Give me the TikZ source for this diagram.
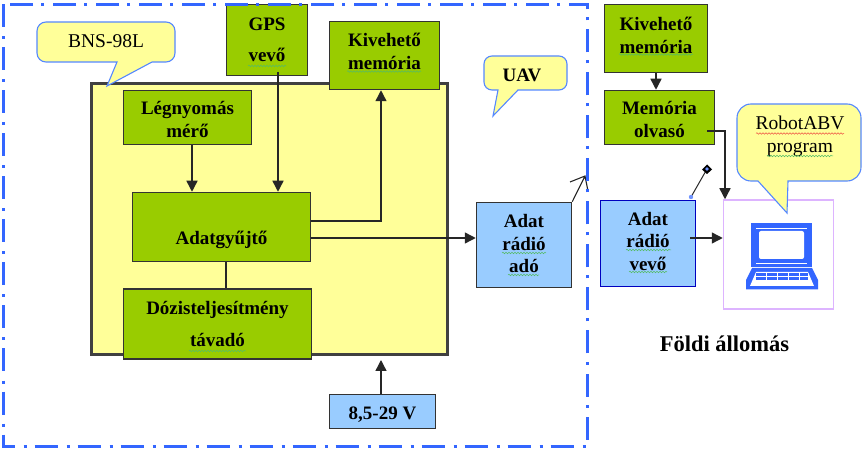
\documentclass[tikz,border=0pt]{standalone}
\usepackage{fontspec}
\setmainfont{Liberation Serif}
\usepackage{xcolor}
\usetikzlibrary{arrows.meta, calc, decorations.pathmorphing}
\definecolor{boxgreen}{HTML}{99CC00}
\definecolor{boxblue}{HTML}{99CCFF}
\definecolor{panelyellow}{HTML}{FFFF99}
\definecolor{framedash}{HTML}{3366FF}
\definecolor{calloutedge}{HTML}{5588FF}
\definecolor{stationlilac}{HTML}{DDB4FF}
\definecolor{spellgreen}{HTML}{55BB66}
\definecolor{spellred}{HTML}{EE5544}
\tikzset{
    boxtext/.style={font=\fontsize{19}{22.5}\selectfont\bfseries, align=center, inner sep=0pt},
    greenbox/.style={draw=black!80, line width=1.5pt, fill=boxgreen, boxtext},
    bluebox/.style={draw=black!80, line width=1.5pt, fill=boxblue, boxtext},
    callout/.style={draw=calloutedge, line width=1.1pt, fill=panelyellow},
    flow/.style={draw=black!85, line width=1.4pt, -{Triangle[length=11pt,width=11pt]}},
    squiggle/.style={line width=0.5pt, decorate, decoration={snake, amplitude=0.8pt, segment length=3pt}}
}
\begin{document}
\begin{tikzpicture}[x=1pt, y=-1pt]
    \useasboundingbox (0,0) rectangle (863,449);

    % Yellow panel
    \node[draw=black!75, line width=3pt, fill=panelyellow, minimum width=356pt, minimum height=271pt, inner sep=0pt] (panel) at (269,219.5) {};

    % Callouts
    \draw[callout] (107,86) -- (117,62) [rounded corners=9pt] -- (37,62) -- (37,22) -- (175,22) -- (175,62) [sharp corners] -- (152,62) -- cycle;
    \node[font=\fontsize{19.5}{22}\selectfont, inner sep=0pt] (bnslabel) at (106,41) {BNS-98L};
    \draw[callout] (493,116) -- (498,90) [rounded corners=8pt] -- (484,90) -- (484,56) -- (567,56) -- (567,90) [sharp corners] -- (518,90) -- cycle;
    \node[boxtext] (uavlabel) at (522,75) {UAV};

    % Boxes
    \node[greenbox, minimum width=81pt, minimum height=71pt] (gps) at (267,40) {GPS\\[9pt]vevő};
    \node[greenbox, minimum width=110pt, minimum height=68pt, label={[boxtext, yshift=4pt]center:{Kivehető\\memória}}] (kivone) at (384.5,55.5) {};
    \node[greenbox, minimum width=128pt, minimum height=54pt, label={[boxtext, yshift=-2pt]center:{Légnyomás\\mérő}}] (legny) at (187.5,117.5) {};
    \node[greenbox, minimum width=178pt, minimum height=69pt, label={[boxtext, yshift=-13pt]center:{Adatgyűjtő}}] (gyujto) at (221.5,227) {};
    \node[greenbox, minimum width=188pt, minimum height=70pt] (dozis) at (217.5,324) {Dózisteljesítmény\\[10pt]távadó};
    \node[bluebox, minimum width=106pt, minimum height=34pt, label={[boxtext, yshift=-3pt]center:{8,5-29 V}}] (batt) at (382.5,411.5) {};
    \node[bluebox, minimum width=95pt, minimum height=85pt, label={[boxtext, yshift=1pt]center:{Adat\\rádió\\adó}}] (ado) at (524,245) {};
    \node[greenbox, minimum width=103pt, minimum height=68pt, label={[boxtext, yshift=3pt]center:{Kivehető\\memória}}] (kivtwo) at (656,38.5) {};
    \node[greenbox, minimum width=110pt, minimum height=54pt, label={[boxtext, yshift=-2pt]center:{Memória\\olvasó}}] (olvaso) at (659.5,117.5) {};
    \node[bluebox, draw=blue!75!black, minimum width=95pt, minimum height=86pt, label={[boxtext, yshift=2pt]center:{Adat\\rádió\\vevő}}] (vevo) at (648,243.5) {};
    \node[draw=stationlilac, line width=1.5pt, minimum width=110pt, minimum height=109pt, inner sep=0pt] (station) at (778.5,254.5) {};

    % Computer
    \fill[framedash] (751,223) rectangle (812,267);
    \fill[white, rounded corners=2pt] (759,231) rectangle (804,259);
    \draw[white, line width=0.6pt] (756,228) -- (807,228) (756,263) -- (807,263);
    \fill[framedash] (752,268) -- (812,268) -- (818,280) -- (818,289.5) -- (746,289.5) -- (746,280) -- cycle;
    \fill[white] (756,272) -- (808,272) -- (814,286) -- (750,286) -- cycle;
    \fill[framedash] (756,273) rectangle (808,280);
    \draw[white, line width=0.6pt] (756,276.5) -- (808,276.5);
    \foreach \keyx in {766,777,788,799}
        \draw[white, line width=0.8pt] (\keyx,273) -- (\keyx,280);

    % RobotABV callout goes over the station frame
    \draw[callout] (787,213) -- (788,181) [rounded corners=14pt] -- (861,181) -- (861,104) -- (737,104) -- (737,181) [sharp corners] -- (758,181) -- cycle;
    \node[font=\fontsize{19.5}{23}\selectfont, align=center, inner sep=0pt] (abvlabel) at (800,136) {RobotABV\\program};

    % Connectors
    \coordinate (gpsout) at (278,72);
    \coordinate (gyujtoup) at (311,221);
    \coordinate (kivin) at (381,221);
    \coordinate (olvout) at (707,131);
    \coordinate (stationin) at (725,131);
    \coordinate (vevoout) at (690,238);
    \coordinate (battout) at (381,394);
    \coordinate (panelin) at (381,360);
    \draw[flow] (legny.south -| 192,0) -- (gyujto.north -| 192,0);
    \draw[flow] (gpsout) -- (gpsout |- gyujto.north);
    \draw[flow] (gyujtoup) -- (kivin) -- (kivin |- kivone.south);
    \draw[black!85, line width=1.1pt] (gyujto.south -| 226,0) -- (dozis.north -| 226,0);
    \draw[flow] (gyujto.east |- 0,238) -- (ado.west |- 0,238);
    \draw[flow] (battout) -- (panelin);
    \draw[flow] (kivtwo.south) -- (kivtwo.south |- olvaso.north);
    \draw[flow] (olvout) -- (stationin) -- (stationin |- station.north);
    \draw[flow] (vevoout) -- (station.west |- vevoout);

    % Antennas
    \coordinate (adotip) at (585,176);
    \draw[black!85, line width=1.1pt] (ado.north east) -- (adotip) (570,182) -- (adotip) -- (588,191);
    \coordinate (vevotip) at (707,169);
    \draw[black!85, line width=1pt] (691,197) -- (vevotip);
    \fill[framedash!70] (691,197) circle (2.2pt);
    \fill[black] (707,164.5) -- (712,169.5) -- (707,174) -- (702,169.5) -- cycle;
    \fill[framedash!70] (vevotip) circle (1.8pt);

    % Outer frame
    \draw[framedash, line width=3pt, dash pattern=on 23pt off 9pt on 3pt off 8pt] (3,4.5) rectangle (587,446);

    % Spell checker underlines
    \foreach \xa/\xb/\yy in {248/286/66, 347/421/71.5, 619/693/54.5, 502/546/253, 508/539/275, 189/246/351, 629/667/272, 626/671/250, 767/833/156}
        \draw[squiggle, spellgreen] (\xa,\yy) -- (\xb,\yy);
    \draw[squiggle, spellred] (756,133.5) -- (844,133.5);

    % Station caption
    \node[font=\fontsize{22.5}{24}\selectfont\bfseries, inner sep=0pt] (caption) at (724.5,344) {Földi állomás};
\end{tikzpicture}
\end{document}
